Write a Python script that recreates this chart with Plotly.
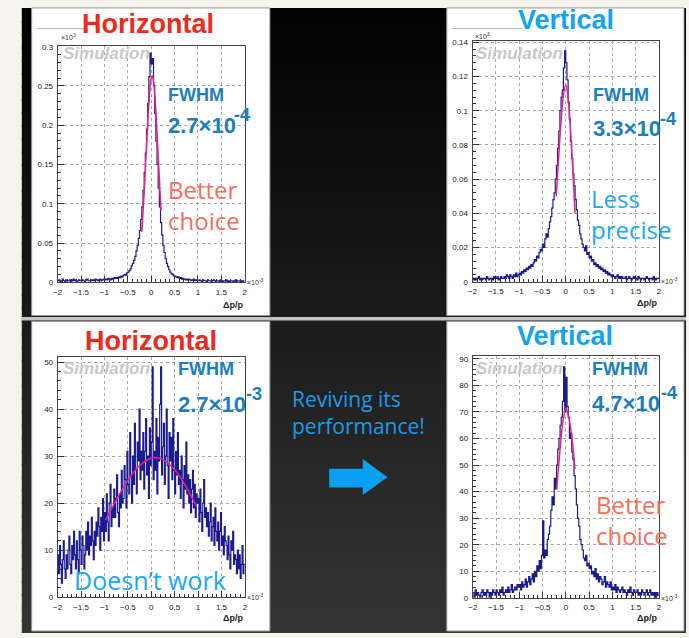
import numpy as np
import plotly.graph_objects as go

# ---------------------------------------------------------------------------
# Histogram contents: momentum resolution dp/p (x in units of 1e-3) on [-2, 2].
# ---------------------------------------------------------------------------
edges_160 = np.linspace(-2.0, 2.0, 161)   # bin width 0.025
edges_200 = np.linspace(-2.0, 2.0, 201)   # bin width 0.02

# Horizontal, top (counts in units of 1e3), 160 bins
h_top_counts = [
    0.002, 0.003, 0.001, 0.002, 0.004, 0.002, 0.001, 0.003, 0.002, 0.002,
    0.003, 0.001, 0.002, 0.004, 0.002, 0.003, 0.001, 0.002, 0.003, 0.002,
    0.002, 0.003, 0.002, 0.001, 0.003, 0.004, 0.002, 0.002, 0.003, 0.002,
    0.003, 0.002, 0.004, 0.003, 0.002, 0.003, 0.004, 0.002, 0.003, 0.004,
    0.003, 0.004, 0.003, 0.005, 0.004, 0.003, 0.005, 0.004, 0.006, 0.005,
    0.006, 0.005, 0.007, 0.006, 0.008, 0.007, 0.009, 0.010, 0.009, 0.012,
    0.013, 0.015, 0.017, 0.021, 0.024, 0.028, 0.033, 0.040, 0.047, 0.056,
    0.066, 0.080, 0.096, 0.117, 0.140, 0.165, 0.195, 0.228, 0.262, 0.292,
    0.278, 0.285, 0.250, 0.215, 0.180, 0.150, 0.120, 0.096, 0.076, 0.060,
    0.047, 0.038, 0.030, 0.024, 0.020, 0.016, 0.013, 0.011, 0.010, 0.008,
    0.008, 0.007, 0.006, 0.007, 0.005, 0.006, 0.004, 0.005, 0.004, 0.003,
    0.004, 0.003, 0.004, 0.003, 0.002, 0.003, 0.004, 0.002, 0.003, 0.002,
    0.002, 0.003, 0.002, 0.001, 0.003, 0.002, 0.002, 0.001, 0.003, 0.002,
    0.002, 0.001, 0.002, 0.003, 0.002, 0.001, 0.002, 0.002, 0.001, 0.003,
    0.002, 0.001, 0.002, 0.002, 0.003, 0.001, 0.002, 0.001, 0.002, 0.002,
    0.001, 0.002, 0.003, 0.001, 0.002, 0.002, 0.001, 0.002, 0.001, 0.002,
]

# Vertical, top (counts in units of 1e3), 160 bins
v_top_counts = [
    0.002, 0.001, 0.002, 0.001, 0.002, 0.003, 0.001, 0.002, 0.001, 0.002,
    0.002, 0.001, 0.003, 0.002, 0.001, 0.002, 0.002, 0.001, 0.003, 0.002,
    0.002, 0.003, 0.001, 0.002, 0.003, 0.002, 0.002, 0.003, 0.002, 0.004,
    0.003, 0.002, 0.004, 0.003, 0.002, 0.004, 0.003, 0.005, 0.003, 0.004,
    0.005, 0.004, 0.006, 0.005, 0.007, 0.006, 0.008, 0.007, 0.009, 0.008,
    0.010, 0.009, 0.011, 0.013, 0.012, 0.015, 0.014, 0.017, 0.019, 0.018,
    0.022, 0.020, 0.025, 0.028, 0.026, 0.031, 0.035, 0.038, 0.043, 0.048,
    0.052, 0.060, 0.068, 0.078, 0.088, 0.100, 0.108, 0.112, 0.125, 0.135,
    0.128, 0.118, 0.105, 0.095, 0.082, 0.072, 0.063, 0.056, 0.048, 0.042,
    0.036, 0.033, 0.028, 0.025, 0.022, 0.020, 0.018, 0.021, 0.016, 0.017,
    0.014, 0.015, 0.012, 0.013, 0.010, 0.011, 0.009, 0.010, 0.008, 0.009,
    0.007, 0.008, 0.006, 0.007, 0.005, 0.006, 0.004, 0.005, 0.004, 0.003,
    0.004, 0.003, 0.002, 0.003, 0.004, 0.002, 0.003, 0.002, 0.003, 0.002,
    0.002, 0.003, 0.001, 0.002, 0.003, 0.002, 0.001, 0.002, 0.003, 0.002,
    0.002, 0.001, 0.003, 0.002, 0.001, 0.002, 0.002, 0.001, 0.002, 0.003,
    0.002, 0.001, 0.002, 0.002, 0.001, 0.003, 0.002, 0.001, 0.002, 0.002,
]

# Horizontal, bottom (counts), 200 bins
h_bottom_counts = [
    9, 5, 11, 7, 3, 8, 12, 6, 4, 9,
    6, 10, 13, 7, 5, 11, 8, 14, 9, 6,
    12, 8, 5, 14, 10, 7, 13, 11, 6, 9,
    14, 10, 16, 9, 13, 11, 17, 12, 8, 14,
    11, 16, 13, 19, 15, 10, 17, 14, 21, 12,
    18, 14, 22, 16, 12, 20, 24, 15, 19, 17,
    23, 17, 21, 26, 18, 15, 22, 19, 27, 20,
    21, 28, 25, 19, 31, 24, 22, 35, 26, 20,
    30, 24, 37, 27, 22, 33, 29, 40, 25, 31,
    27, 35, 23, 31, 38, 26, 30, 21, 36, 28,
    33, 49, 25, 31, 27, 38, 22, 34, 29, 41,
    49, 26, 32, 37, 24, 30, 40, 28, 21, 35,
    29, 34, 25, 38, 27, 22, 31, 26, 35, 24,
    27, 21, 30, 25, 19, 28, 23, 33, 22, 26,
    20, 25, 18, 23, 27, 19, 24, 17, 22, 20,
    21, 16, 23, 18, 14, 20, 25, 17, 19, 15,
    18, 13, 16, 20, 12, 15, 17, 11, 19, 14,
    12, 16, 10, 14, 18, 11, 13, 9, 15, 12,
    11, 8, 13, 9, 6, 12, 10, 14, 7, 9,
    8, 5, 10, 6, 9, 4, 7, 11, 5, 7,
]

# Vertical, bottom (counts), 160 bins
v_bottom_counts = [
    2, 0, 3, 1, 2, 1, 0, 2, 3, 1,
    2, 1, 3, 2, 0, 2, 1, 3, 2, 1,
    3, 2, 1, 3, 2, 4, 1, 2, 3, 2,
    4, 2, 3, 5, 2, 3, 4, 3, 5, 4,
    5, 3, 6, 4, 5, 7, 4, 6, 8, 5,
    7, 9, 6, 10, 8, 12, 10, 14, 11, 16,
    29, 15, 18, 16, 22, 24, 27, 33, 38, 35,
    45, 41, 50, 56, 60, 65, 68, 74, 87, 70,
    83, 72, 68, 60, 62, 55, 52, 46, 41, 35,
    30, 27, 22, 20, 18, 15, 14, 16, 12, 13,
    11, 12, 9, 10, 8, 11, 7, 9, 6, 8,
    7, 5, 6, 8, 4, 6, 5, 4, 6, 3,
    4, 3, 5, 2, 4, 3, 2, 3, 4, 2,
    3, 2, 1, 3, 2, 4, 2, 1, 3, 2,
    2, 3, 1, 2, 1, 3, 2, 1, 2, 3,
    1, 2, 3, 1, 2, 1, 2, 0, 2, 1,
]

# Fitted peak curves (sampled)
h_top_fit_x = [-0.20, -0.15, -0.10, -0.05, 0.00, 0.02, 0.05, 0.10, 0.15, 0.21]
h_top_fit_y = [0.064, 0.113, 0.173, 0.228, 0.260, 0.263, 0.256, 0.218, 0.161, 0.092]

v_top_fit_x = [-0.205, -0.15, -0.10, -0.05, 0.00, 0.05, 0.10, 0.15, 0.198]
v_top_fit_y = [0.050, 0.074, 0.094, 0.109, 0.115, 0.108, 0.090, 0.066, 0.040]

h_bottom_fit_x = [-0.98, -0.75, -0.50, -0.25, 0.00, 0.08, 0.25, 0.50, 0.75, 0.96]
h_bottom_fit_y = [16.4, 20.6, 24.9, 28.0, 29.6, 29.7, 29.25, 27.1, 23.4, 19.4]

v_bottom_fit_x = [-0.20, -0.15, -0.10, -0.05, 0.00, 0.05, 0.10, 0.15, 0.195]
v_bottom_fit_y = [41, 51, 61, 68, 71.4, 69, 64, 57, 48.5]

x_tick_values = [-2, -1.5, -1, -0.5, 0, 0.5, 1, 1.5, 2]

# Text shown on each panel
titles = ["Horizontal", "Vertical", "Horizontal", "Vertical"]
fwhm_values = ["2.7×10", "3.3×10", "2.7×10", "4.7×10"]
fwhm_exponents = ["-4", "-4", "-3", "-4"]

# ---------------------------------------------------------------------------
# Layout helpers (pixel -> paper coordinates)
# ---------------------------------------------------------------------------
W, H = 689, 638


def fx(x):
    return x / W


def fy(y):
    return 1 - y / H


HIST_COLOR = "#1b1b8f"
FIT_COLOR = "#ee1e8e"
TITLE_RED = "#ee2a1e"
TITLE_BLUE = "#14a2f4"
FWHM_BLUE = "#1a7ec0"
LIGHT_BLUE = "#1aa8fb"
SALMON = "#fa6e5a"
SANS = "Liberation Sans, Arial, sans-serif"
LIGHT = "Open Sans, Noto Sans, sans-serif"

panels = [
    dict(counts=h_top_counts, edges=edges_160, fx_=h_top_fit_x, fy_=h_top_fit_y,
         box=(53.3, 242.5, 42.7, 282.3), ymax=0.3008, dtick=0.05, minor=0.01),
    dict(counts=v_top_counts, edges=edges_160, fx_=v_top_fit_x, fy_=v_top_fit_y,
         box=(473.0, 661.7, 37.3, 281.7), ymax=0.1409, dtick=0.02, minor=0.004),
    dict(counts=h_bottom_counts, edges=edges_200, fx_=h_bottom_fit_x, fy_=h_bottom_fit_y,
         box=(53.3, 242.7, 358.5, 601.7), ymax=51.0, dtick=10, minor=2),
    dict(counts=v_bottom_counts, edges=edges_160, fx_=v_bottom_fit_x, fy_=v_bottom_fit_y,
         box=(473.3, 661.7, 356.7, 602.3), ymax=91.2, dtick=10, minor=2),
]

fig = go.Figure()
layout_axes = {}
tick_font = dict(family=SANS, size=8, color="#1a1a1a")

for i, p in enumerate(panels, start=1):
    xa = "x" if i == 1 else f"x{i}"
    ya = "y" if i == 1 else f"y{i}"
    counts = list(p["counts"])
    fig.add_trace(go.Scatter(
        x=p["edges"], y=counts + [counts[-1]], mode="lines",
        line=dict(color=HIST_COLOR, width=1.2, shape="hv"),
        xaxis=xa, yaxis=ya, showlegend=False, hoverinfo="skip"))
    fig.add_trace(go.Scatter(
        x=p["fx_"], y=p["fy_"], mode="lines",
        line=dict(color=FIT_COLOR, width=1.5, shape="spline"),
        xaxis=xa, yaxis=ya, showlegend=False, hoverinfo="skip"))

    x0, x1, ytop, ybot = p["box"]
    common = dict(showline=True, mirror=True, linecolor="#444", linewidth=1,
                  showgrid=True, gridcolor="#a8a8a8", griddash="dot", gridwidth=1,
                  zeroline=False, ticks="inside", ticklen=6, tickcolor="#333",
                  tickfont=tick_font, fixedrange=True)
    layout_axes["xaxis" if i == 1 else f"xaxis{i}"] = dict(
        domain=[fx(x0), fx(x1)], range=[-2, 2], anchor=ya,
        tickvals=x_tick_values, ticklabelstandoff=2,
        minor=dict(dtick=0.1, tick0=-2, ticks="inside", ticklen=3,
                   tickcolor="#333", showgrid=False),
        **common)
    layout_axes["yaxis" if i == 1 else f"yaxis{i}"] = dict(
        domain=[fy(ybot), fy(ytop)], range=[0, p["ymax"]], anchor=xa,
        tick0=0, dtick=p["dtick"], ticklabelstandoff=2,
        minor=dict(dtick=p["minor"], tick0=0, ticks="inside", ticklen=3,
                   tickcolor="#333", showgrid=False),
        **common)

# ---------------------------------------------------------------------------
# Background: cream page, dark slide with vertical gradient, white panels
# ---------------------------------------------------------------------------
shapes = []
n_strip = 48
y_start, y_end = 4, 638
for k in range(n_strip):
    ya0 = y_start + (y_end - y_start) * k / n_strip
    ya1 = min(y_end, y_start + (y_end - y_start) * (k + 1) / n_strip + 2)
    g = int(2 + 51 * (k + 0.5) / n_strip)
    shapes.append(dict(type="rect", xref="paper", yref="paper", layer="below",
                       x0=fx(17), x1=fx(689), y0=fy(ya1), y1=fy(ya0),
                       fillcolor=f"rgb({g},{g},{g})", line=dict(width=0)))

# separator between the two rows
shapes.append(dict(type="rect", xref="paper", yref="paper", layer="below",
                   x0=fx(17), x1=fx(689), y0=fy(321), y1=fy(317.5),
                   fillcolor="#c4c4c4", line=dict(width=0)))

panel_rects = [(27, 268, 4, 316), (447, 687, 4, 316),
               (27, 268, 322, 636), (447, 687, 322, 636)]
for (a, b, c, d) in panel_rects:
    shapes.append(dict(type="rect", xref="paper", yref="paper", layer="below",
                       x0=fx(a), x1=fx(b), y0=fy(d), y1=fy(c),
                       fillcolor="white", line=dict(color="#9a9a9a", width=1)))

# title-box remnants on the top panels
for (a, b) in [(32, 82), (452, 524)]:
    shapes.append(dict(type="line", xref="paper", yref="paper", layer="below",
                       x0=fx(a), x1=fx(b), y0=fy(25), y1=fy(25),
                       line=dict(color="#b0b0b0", width=1)))

# block arrow in the middle of the bottom row
arrow_px = [(328, 471.5), (362, 471.5), (362, 461.5), (387, 480),
            (362, 498), (362, 490.5), (328, 490.5)]
path = "M " + " L ".join(f"{fx(x):.5f},{fy(y):.5f}" for x, y in arrow_px) + " Z"
shapes.append(dict(type="path", xref="paper", yref="paper", path=path,
                   fillcolor="#0aa0f2", line=dict(width=0)))

# ---------------------------------------------------------------------------
# Annotations
# ---------------------------------------------------------------------------
annotations = []


def txt(s, x, y, size, color, family=SANS, xanchor="left", yanchor="middle"):
    annotations.append(dict(text=s, x=fx(x), y=fy(y), xref="paper", yref="paper",
                            xanchor=xanchor, yanchor=yanchor, align="left",
                            showarrow=False,
                            font=dict(family=family, size=size, color=color)))


# panel titles
txt(f"<b>{titles[0]}</b>", 145, 20, 27, TITLE_RED, xanchor="center")
txt(f"<b>{titles[1]}</b>", 567.5, 16, 27, TITLE_BLUE, xanchor="center")
txt(f"<b>{titles[2]}</b>", 147.5, 342, 27, TITLE_RED, xanchor="center")
txt(f"<b>{titles[3]}</b>", 567, 337, 27, TITLE_BLUE, xanchor="center")

# "Simulation" watermark
for (x, y) in [(57, 50), (475, 50), (57, 370), (475, 370)]:
    txt("<b><i>Simulation</i></b>", x, y, 17, "#c8c8c8")

# FWHM labels
fwhm_pos = [((163, 92.5), (163, 123), (230, 113)),
            ((593, 92), (593, 126.5), (661, 117)),
            ((173, 370.5), (173, 406), (242, 396)),
            ((592, 370), (592, 405), (662, 395))]
for k, ((a, b), (c, d), (e, f)) in enumerate(fwhm_pos):
    txt("<b>FWHM</b>", a, b, 18, FWHM_BLUE)
    txt(f"<b>{fwhm_values[k]}</b>", c, d, 22, FWHM_BLUE)
    txt(f"<b>{fwhm_exponents[k]}</b>", e, f, 18, FWHM_BLUE)

# axis decorations
for (x, y) in [(55, 33), (474, 32)]:
    txt("×10<sup>3</sup>", x, y, 7, "#333")
for (x, y) in [(243, 282), (662, 281), (243, 601), (662, 602)]:
    txt("×10<sup>-3</sup>", x, y, 7, "#333")
for (x, y) in [(243, 305), (662, 303), (243, 623), (662, 623)]:
    txt("<b>Δp/p</b>", x, y, 9, "#222", xanchor="right")

# commentary
txt("Better<br>choice", 163, 203.5, 24, SALMON, family=LIGHT)
txt("Less<br>precise", 591, 213.5, 24, LIGHT_BLUE, family=LIGHT)
txt("Doesn’t work", 68, 584, 25, LIGHT_BLUE, family=LIGHT)
txt("Better<br>choice", 596, 523.5, 24, SALMON, family=LIGHT)
txt("Reviving its<br>performance!", 288, 414, 21, "#1a9be8", family=LIGHT)

fig.update_layout(
    width=W, height=H, margin=dict(l=0, r=0, t=0, b=0),
    paper_bgcolor="#f6f2ec", plot_bgcolor="white",
    shapes=shapes, annotations=annotations, showlegend=False,
    **layout_axes,
)

fig.write_html("out.html")
